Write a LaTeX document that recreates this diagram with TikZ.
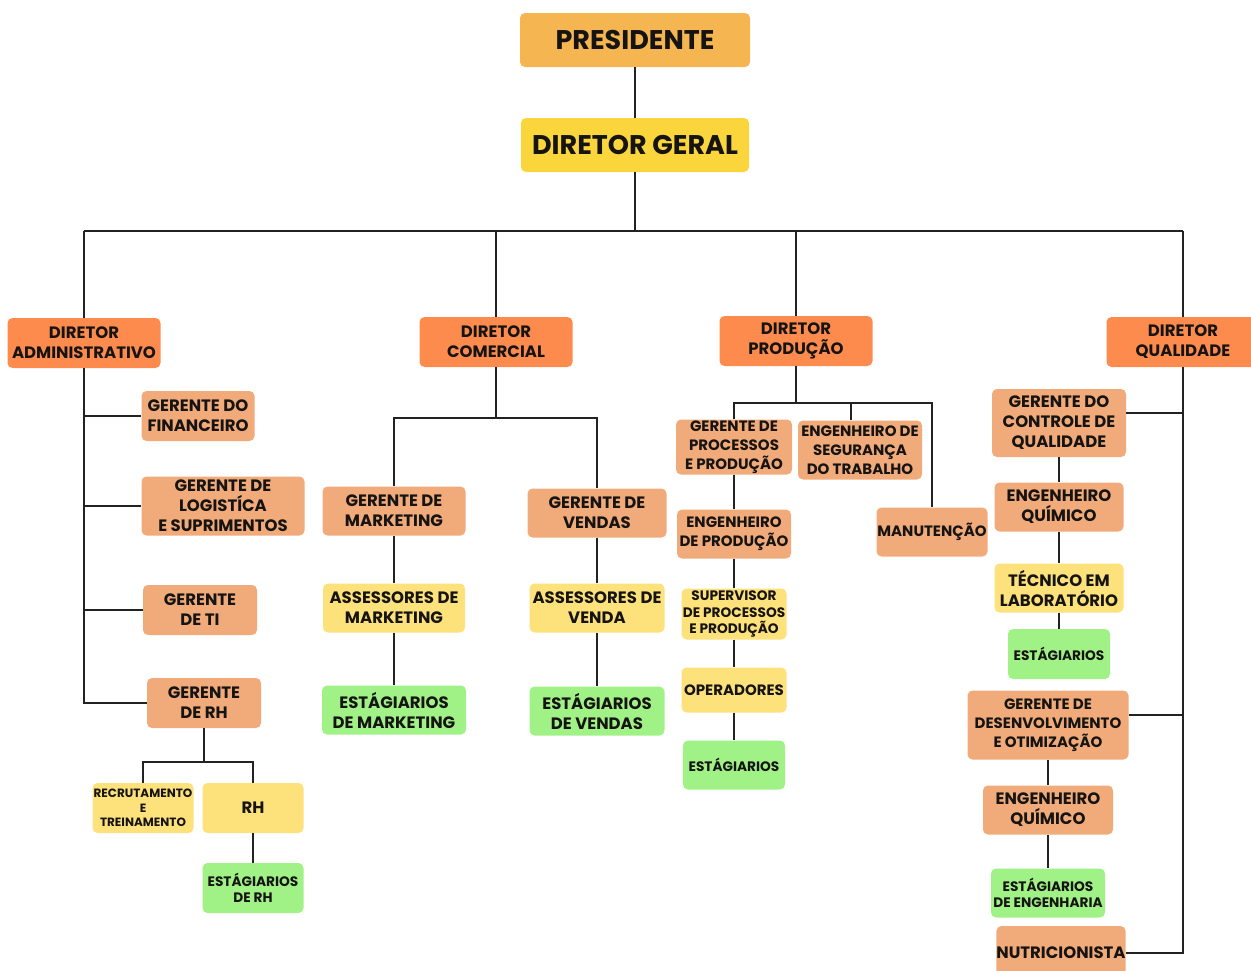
\documentclass[tikz,border=0pt]{standalone}
\usepackage{fontspec}
\setmainfont{Poppins}
\definecolor{presfill}{HTML}{F5B551}
\definecolor{geralfill}{HTML}{FAD53C}
\definecolor{dirfill}{HTML}{FD8B4D}
\definecolor{gerfill}{HTML}{F1AA79}
\definecolor{assfill}{HTML}{FDE17B}
\definecolor{estfill}{HTML}{A0F286}
\definecolor{txt}{HTML}{161412}
\definecolor{wirecol}{HTML}{222222}

\begin{document}
\begin{tikzpicture}[x=1pt,y=-1pt,
	box/.style={rounded corners=5pt, align=center, inner sep=0pt, text=txt},
	sz/.style 2 args={minimum width=#1, minimum height=#2},
	top/.style={box, fill=presfill, font=\bfseries\fontsize{27}{30}\selectfont},
	dir/.style={box, fill=dirfill, font=\bfseries\fontsize{16.5}{20}\selectfont},
	ger/.style={box, fill=gerfill, font=\bfseries\fontsize{16.5}{20}\selectfont},
	ass/.style={box, fill=assfill, font=\bfseries\fontsize{16.5}{20}\selectfont},
	est/.style={box, fill=estfill, font=\bfseries\fontsize{16.5}{20}\selectfont},
	mid/.style={font=\bfseries\fontsize{15}{19}\selectfont},
	small/.style={font=\bfseries\fontsize{13.7}{16.5}\selectfont},
	tiny/.style={font=\bfseries\fontsize{12}{14.5}\selectfont},
	wire/.style={draw=wirecol, line width=2.6pt}]

	\useasboundingbox (0,0) rectangle (1251,970);

	% topo
	\node[top, sz={230}{54}] (pres) at (635,40) {PRESIDENTE};
	\node[top, fill=geralfill, sz={228}{54}] (geral) at (635,145) {DIRETOR GERAL};

	\node[dir, sz={153}{50}] (dadm) at (84,343) {DIRETOR\\ADMINISTRATIVO};
	\node[dir, sz={153}{50}] (dcom) at (496,342) {DIRETOR\\COMERCIAL};
	\node[dir, sz={153}{50}] (dprod) at (796,341) {DIRETOR\\PRODUÇÃO};
	\node[dir, sz={153}{50}] (dqual) at (1183,342) {DIRETOR\\QUALIDADE};

	\coordinate (barL) at (84,231);
	\coordinate (barR) at (1183,231);
	\draw[wire] (pres) -- (geral);
	\draw[wire] (geral) -- (geral |- barL);
	\draw[wire] (barL) -- (barR);
	\draw[wire] (barL) -- (dadm);
	\draw[wire] (dcom |- barL) -- (dcom);
	\draw[wire] (dprod |- barL) -- (dprod);
	\draw[wire] (barR) -- (dqual);

	% administrativo
	\node[ger, sz={113}{50}] (gfin) at (198,416) {GERENTE DO\\FINANCEIRO};
	\node[ger, sz={163}{59}] (glog) at (223,506) {GERENTE DE\\LOGISTÍCA\\E SUPRIMENTOS};
	\node[ger, sz={114}{50}] (gti) at (200,610) {GERENTE\\DE TI};
	\node[ger, sz={114}{50}] (grh) at (204,703) {GERENTE\\DE RH};
	\node[ass, tiny, sz={101}{50}] (rec) at (143,808) {RECRUTAMENTO\\E\\TREINAMENTO};
	\node[ass, sz={101}{50}] (rh) at (253,808) {RH};
	\node[est, small, sz={101}{50}] (estrh) at (253,888) {ESTÁGIARIOS\\DE RH};

	\draw[wire] (dadm) |- (grh);
	\draw[wire] (dadm |- gfin) -- (gfin);
	\draw[wire] (dadm |- glog) -- (glog);
	\draw[wire] (dadm |- gti) -- (gti);
	\coordinate (rhbar) at (204,762);
	\draw[wire] (grh) -- (rhbar);
	\draw[wire] (rec) |- (rhbar) -| (rh);
	\draw[wire] (rh) -- (estrh);

	% comercial
	\node[ger, sz={143}{49}] (gmkt) at (394,511) {GERENTE DE\\MARKETING};
	\node[ger, sz={139}{49}] (gven) at (597,513) {GERENTE DE\\VENDAS};
	\node[ass, sz={142}{49}] (amkt) at (394,608) {ASSESSORES DE\\MARKETING};
	\node[ass, sz={135}{49}] (aven) at (597,608) {ASSESSORES DE\\VENDA};
	\node[est, sz={144}{49}] (emkt) at (394,710) {ESTÁGIARIOS\\DE MARKETING};
	\node[est, sz={135}{49}] (even) at (597,711) {ESTÁGIARIOS\\DE VENDAS};

	\coordinate (combar) at (496,418);
	\draw[wire] (dcom) -- (combar);
	\draw[wire] (gmkt) |- (combar) -| (gven);
	\draw[wire] (gmkt) -- (amkt) -- (emkt);
	\draw[wire] (gven) -- (aven) -- (even);

	% producao
	\node[ger, mid, sz={116}{55}] (gproc) at (734,447) {GERENTE DE\\PROCESSOS\\E PRODUÇÃO};
	\node[ger, mid, sz={124}{59}] (seg) at (860,450) {ENGENHEIRO DE\\SEGURANÇA\\DO TRABALHO};
	\node[ger, mid, sz={111}{49}] (manut) at (932,532) {MANUTENÇÃO};
	\node[ger, mid, sz={114}{49}] (epr) at (734,534) {ENGENHEIRO\\DE PRODUÇÃO};
	\node[ass, small, sz={105}{51}] (sup) at (734,614) {SUPERVISOR\\DE PROCESSOS\\E PRODUÇÃO};
	\node[ass, mid, sz={105}{45}] (oper) at (734,690) {OPERADORES};
	\node[est, small, sz={102}{49}] (estp) at (734,765) {ESTÁGIARIOS};

	\coordinate (prodbar) at (796,403);
	\draw[wire] (dprod) -- (prodbar);
	\draw[wire] (gproc) |- (prodbar) -| (manut);
	\draw[wire] ([xshift=-9pt]seg.north |- prodbar) -- ([xshift=-9pt]seg.north);
	\draw[wire] (gproc) -- (epr) -- (sup) -- (oper) -- (estp);

	% qualidade
	\node[ger, sz={134}{68}] (gcq) at (1059,423) {GERENTE DO\\CONTROLE DE\\QUALIDADE};
	\node[ger, sz={129}{49}] (eq1) at (1059,507) {ENGENHEIRO\\QUÍMICO};
	\node[ass, sz={129}{49}] (tec) at (1059,588) {TÉCNICO EM\\LABORATÓRIO};
	\node[est, small, sz={102}{50}] (est1) at (1059,654) {ESTÁGIARIOS};
	\node[ger, mid, sz={161}{69}] (gdo) at (1048,725) {GERENTE DE\\DESENVOLVIMENTO\\E OTIMIZAÇÃO};
	\node[ger, sz={130}{49}] (eq2) at (1048,810) {ENGENHEIRO\\QUÍMICO};
	\node[est, small, sz={114}{49}] (esteng) at (1048,893) {ESTÁGIARIOS\\DE ENGENHARIA};
	\node[ger, sz={129}{54}] (nutri) at (1061,953) {NUTRICIONISTA};

	\draw[wire] (dqual) |- (nutri);
	\draw[wire] ([yshift=10pt]gcq.east) -- ([yshift=10pt]gcq.east -| dqual);
	\draw[wire] ([yshift=10pt]gdo.east) -- ([yshift=10pt]gdo.east -| dqual);
	\draw[wire] (gcq) -- (eq1) -- (tec) -- (est1);
	\draw[wire] (gdo) -- (eq2) -- (esteng);

\end{tikzpicture}
\end{document}
